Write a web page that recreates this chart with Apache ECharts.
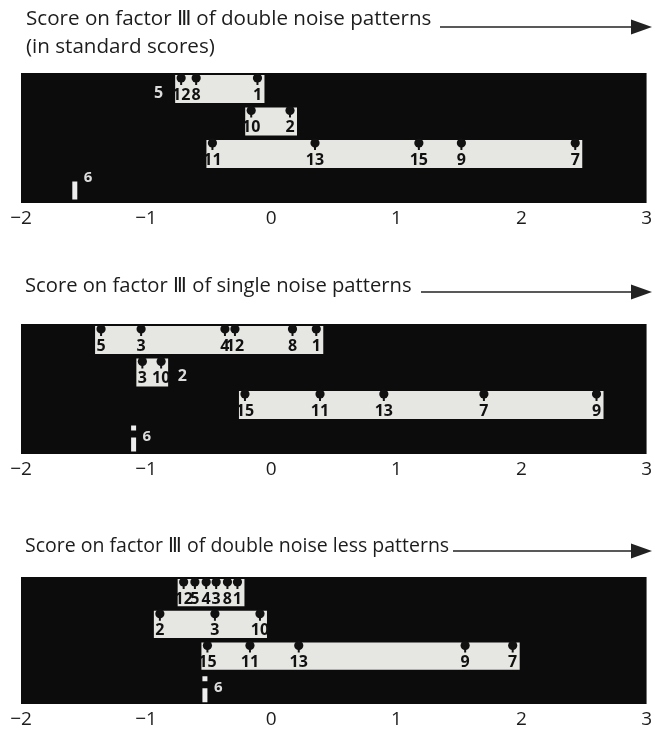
<!DOCTYPE html>
<html>
<head>
<meta charset="utf-8">
<script src="https://cdn.jsdelivr.net/npm/echarts@6/dist/echarts.min.js"></script>
<style>
  html, body { margin: 0; padding: 0; background: #fff; }
  #chart { width: 655px; height: 729px; }
</style>
</head>
<body>
<div id="chart"></div>
<script>
// axis
const xTicks = [-2, -1, 0, 1, 2, 3];
const rowNames = ['a', 'b', 'c', 'd'];

// titles
const titleDouble = 'Score on factor \u2162 of double noise patterns';
const titleUnits = '(in standard scores)';
const titleSingle = 'Score on factor \u2162 of single noise patterns';
const titleLess = 'Score on factor \u2162 of double noise less patterns';

// double noise patterns (standard scores per pattern number)
const dblRow1Ids = [12, 8, 1];
const dblRow1Vals = [-0.72, -0.60, -0.11];
const dblRow2Ids = [10, 2];
const dblRow2Vals = [-0.16, 0.15];
const dblRow3Ids = [11, 13, 15, 9, 7];
const dblRow3Vals = [-0.47, 0.35, 1.18, 1.52, 2.43];
const dblStrayIds = [5];
const dblStrayRows = [0];
const dblStrayVals = [-0.90];
const dblSixVal = -1.57;

// single noise patterns
const sglRow1Ids = [5, 3, 4, 12, 8, 1];
const sglRow1Vals = [-1.36, -1.04, -0.37, -0.29, 0.17, 0.36];
const sglRow2Ids = [3, 10];
const sglRow2Vals = [-1.03, -0.88];
const sglRow3Ids = [15, 11, 13, 7, 9];
const sglRow3Vals = [-0.21, 0.39, 0.90, 1.70, 2.60];
const sglStrayIds = [2];
const sglStrayRows = [1];
const sglStrayVals = [-0.71];
const sglSixVal = -1.10;

// double noise less patterns
const lessRow1Ids = [12, 5, 4, 3, 8, 1];
const lessRow1Vals = [-0.70, -0.61, -0.52, -0.44, -0.35, -0.27];
const lessRow2Ids = [2, 3, 10];
const lessRow2Vals = [-0.89, -0.45, -0.09];
const lessRow3Ids = [15, 11, 13, 9, 7];
const lessRow3Vals = [-0.51, -0.17, 0.22, 1.55, 1.93];
const lessStrayIds = [];
const lessStrayRows = [];
const lessStrayVals = [];
const lessSixVal = -0.53;

const FONT = 'Open Sans';

const panels = [
  { top: 73, rows: [[dblRow1Ids, dblRow1Vals], [dblRow2Ids, dblRow2Vals], [dblRow3Ids, dblRow3Vals]],
    stray: [dblStrayIds, dblStrayRows, dblStrayVals], six: dblSixVal, sixDashed: false },
  { top: 324, rows: [[sglRow1Ids, sglRow1Vals], [sglRow2Ids, sglRow2Vals], [sglRow3Ids, sglRow3Vals]],
    stray: [sglStrayIds, sglStrayRows, sglStrayVals], six: sglSixVal, sixDashed: true },
  { top: 577, rows: [[lessRow1Ids, lessRow1Vals], [lessRow2Ids, lessRow2Vals], [lessRow3Ids, lessRow3Vals]],
    stray: [lessStrayIds, lessStrayRows, lessStrayVals], six: lessSixVal, sixDashed: true }
];

function bandTop(api, row) {
  const c = api.coord([0, row]);
  const band = api.size([0, 1])[1];
  return [c[1] - band / 2, band];
}

function renderBox(params, api) {
  const row = api.value(2);
  const p0 = api.coord([api.value(0), row]);
  const p1 = api.coord([api.value(1), row]);
  const [top, band] = bandTop(api, row);
  return {
    type: 'rect',
    shape: { x: p0[0] - 6, y: top + 2, width: p1[0] - p0[0] + 13, height: band - 4.5 },
    style: { fill: '#e6e6e3' }
  };
}

function renderPoint(params, api) {
  const row = api.value(1);
  const p = api.coord([api.value(0), row]);
  const [top] = bandTop(api, row);
  return {
    type: 'group',
    children: [
      { type: 'circle', shape: { cx: p[0], cy: top + 5, r: 4.6 }, style: { fill: '#111' } },
      { type: 'rect', shape: { x: p[0] - 1, y: top + 5, width: 2, height: 7 }, style: { fill: '#111' } },
      { type: 'text', x: p[0], y: top + 22,
        style: { text: String(api.value(2)), fill: '#111', font: 'bold 16px ' + FONT,
          textAlign: 'center', textVerticalAlign: 'middle' } }
    ]
  };
}

function renderStray(params, api) {
  const row = api.value(1);
  const p = api.coord([api.value(0), row]);
  const [top] = bandTop(api, row);
  return {
    type: 'text', x: p[0], y: top + 20,
    style: { text: String(api.value(2)), fill: '#dcdcdc', font: 'bold 16px ' + FONT,
      textAlign: 'center', textVerticalAlign: 'middle' }
  };
}

function renderSix(dashed) {
  return function (params, api) {
    const p = api.coord([api.value(0), 3]);
    const [top] = bandTop(api, 3);
    const pieces = dashed
      ? [{ type: 'rect', shape: { x: p[0] - 2.5, y: top + 4, width: 5, height: 5 }, style: { fill: '#eee' } },
         { type: 'rect', shape: { x: p[0] - 2.5, y: top + 16, width: 5, height: 14 }, style: { fill: '#eee' } }]
      : [{ type: 'rect', shape: { x: p[0] - 2.5, y: top + 11, width: 5, height: 18 }, style: { fill: '#eee' } }];
    pieces.push({ type: 'text', x: p[0] + 9, y: dashed ? top + 15 : top + 7,
      style: { text: '6', fill: '#dcdcdc', font: 'bold 15px ' + FONT, textVerticalAlign: 'middle' } });
    return { type: 'group', children: pieces };
  };
}

const grids = [], xAxes = [], yAxes = [], series = [];
panels.forEach((pn, i) => {
  grids.push({ left: 21, width: 631, top: pn.top, height: 130, show: true,
    backgroundColor: '#0c0c0c', borderWidth: 0 });
  xAxes.push({ gridIndex: i, type: 'value', min: xTicks[0], max: xTicks[xTicks.length - 1], interval: 1,
    axisLine: { show: false }, axisTick: { show: false }, splitLine: { show: false },
    axisLabel: { margin: 6, color: '#1c1c1c', fontSize: 19, fontFamily: FONT,
      formatter: v => String(v).replace('-', '\u2212') } });
  yAxes.push({ gridIndex: i, type: 'category', data: rowNames, inverse: true, show: false });

  const boxes = pn.rows.map((r, k) => [Math.min(...r[1]), Math.max(...r[1]), k]);
  const pts = [];
  pn.rows.forEach((r, k) => r[0].forEach((id, j) => pts.push([r[1][j], k, id])));
  const strays = pn.stray[0].map((id, j) => [pn.stray[2][j], pn.stray[1][j], id]);

  series.push({ type: 'custom', xAxisIndex: i, yAxisIndex: i, renderItem: renderBox, data: boxes, silent: true });
  series.push({ type: 'custom', xAxisIndex: i, yAxisIndex: i, renderItem: renderPoint, data: pts, silent: true });
  series.push({ type: 'custom', xAxisIndex: i, yAxisIndex: i, renderItem: renderStray, data: strays, silent: true });
  series.push({ type: 'custom', xAxisIndex: i, yAxisIndex: i, renderItem: renderSix(pn.sixDashed), data: [[pn.six, 3]], silent: true });
});

function titleText(text, x, y, size) {
  return { type: 'text', left: x, top: y,
    style: { text: text, fill: '#1c1c1c', font: size + 'px ' + FONT } };
}
function arrow(x0, y) {
  return [
    { type: 'line', shape: { x1: x0, y1: y, x2: 634, y2: y }, style: { stroke: '#222', lineWidth: 1.5 } },
    { type: 'polygon', shape: { points: [[631, y - 7.5], [652, y], [631, y + 7.5]] }, style: { fill: '#222' } }
  ];
}

const chart = echarts.init(document.getElementById('chart'), null, { renderer: 'canvas' });
chart.setOption({
  animation: false,
  backgroundColor: '#fff',
  grid: grids,
  xAxis: xAxes,
  yAxis: yAxes,
  series: series,
  graphic: [
    titleText(titleDouble, 26, 9, 20.6),
    titleText(titleUnits, 26, 37, 20.6),
    ...arrow(440, 27),
    titleText(titleSingle, 25, 276, 20.2),
    ...arrow(421, 292),
    titleText(titleLess, 25, 536, 19.5),
    ...arrow(453, 551)
  ]
});
</script>
</body>
</html>
